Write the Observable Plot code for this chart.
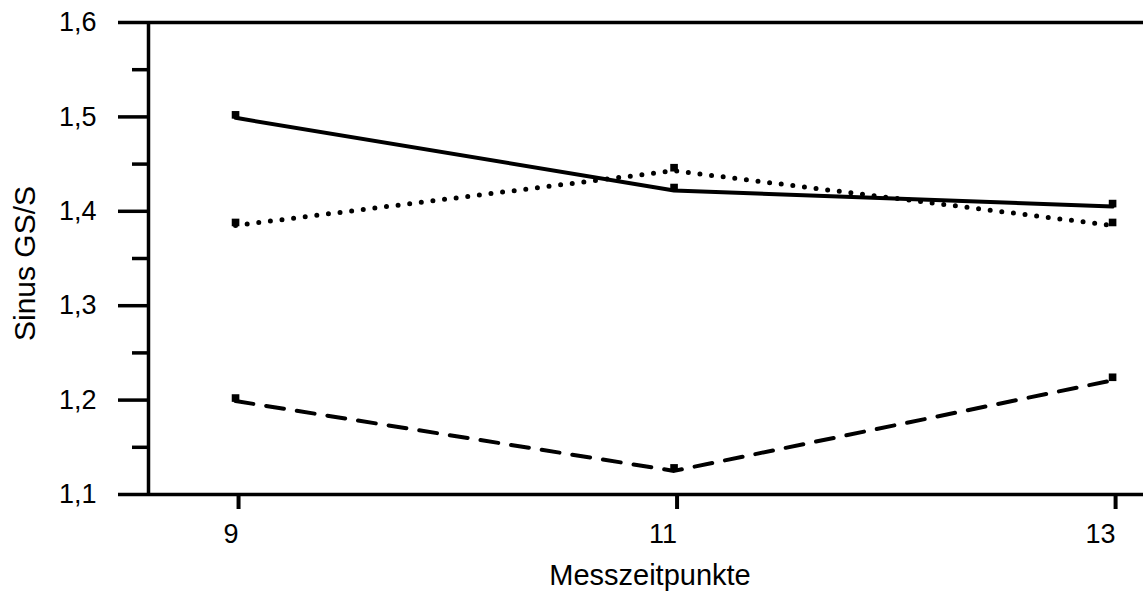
<!DOCTYPE html>
<html><head><meta charset="utf-8">
<script src="https://cdn.jsdelivr.net/npm/d3@7"></script>
<script src="https://cdn.jsdelivr.net/npm/@observablehq/plot@0.6"></script>
<style>body{margin:0;background:#fff} svg{display:block}</style>
</head><body><div id="chart"></div>
<script>
const timepoints = [9, 11, 13];
const solidSeries = [1.499, 1.422, 1.405];
const dottedSeries = [1.385, 1.443, 1.385];
const dashedSeries = [1.199, 1.125, 1.221];
const yMajorTicks = [1.1, 1.2, 1.3, 1.4, 1.5, 1.6];
const yMinorTicks = [1.15, 1.25, 1.35, 1.45, 1.55];
const xTicks = [9, 11, 13];
const xLabel = "Messzeitpunkte";
const yLabel = "Sinus GS/S";

const xDomain = [8.603, 13.141];
const fmt = d => d.toFixed(1).replace(".", ",");
const toRows = (vals, s) => timepoints.map((t, i) => ({t, v: vals[i], s}));
const solidRows = toRows(solidSeries, "solid");
const dottedRows = toRows(dottedSeries, "dotted");
const dashedRows = toRows(dashedSeries, "dashed");
const allRows = [...solidRows, ...dottedRows, ...dashedRows];

const chart = Plot.plot({
  width: 1143,
  height: 592,
  marginLeft: 148,
  marginRight: 0,
  marginTop: 22,
  marginBottom: 98,
  style: {fontFamily: "'Liberation Sans', Arial, Helvetica, sans-serif", fontSize: "27px", color: "black", background: "white"},
  x: {domain: xDomain},
  y: {domain: [1.1, 1.6]},
  marks: [
    Plot.axisY({ticks: yMinorTicks, tickSize: 16, tickFormat: () => "", strokeWidth: 3.5, label: null}),
    Plot.axisY({ticks: yMajorTicks, tickSize: 30, tickPadding: 22, tickFormat: fmt, strokeWidth: 3.5, fontSize: 27, label: null}),
    Plot.axisX({ticks: xTicks, tickSize: 15, tickPadding: 14, tickFormat: d => String(d), strokeWidth: 4, fontSize: 27, textAnchor: "end", dx: 3, label: null}),
    Plot.ruleX([xDomain[0]], {strokeWidth: 3.5}),
    Plot.ruleY([1.6, 1.1], {strokeWidth: 3.5}),
    Plot.line(solidRows, {x: "t", y: "v", stroke: "black", strokeWidth: 4}),
    Plot.line(dottedRows, {x: "t", y: "v", stroke: "black", strokeWidth: 5, strokeDasharray: "0 11.7", strokeLinecap: "round"}),
    Plot.line(dashedRows, {x: "t", y: "v", stroke: "black", strokeWidth: 4, strokeDasharray: "18 13"}),
    Plot.dot(allRows, {x: "t", y: "v", symbol: "square", r: 4.3, fill: "black", dy: -3}),
    Plot.text([xLabel], {frameAnchor: "bottom", textAnchor: "middle", lineAnchor: "middle", dx: 4, dy: 81, fontSize: 29}),
    Plot.text([yLabel], {frameAnchor: "left", textAnchor: "middle", lineAnchor: "middle", rotate: -90, dx: -123, dy: 5, fontSize: 30})
  ]
});
document.getElementById("chart").appendChild(chart);
</script>
</body></html>
